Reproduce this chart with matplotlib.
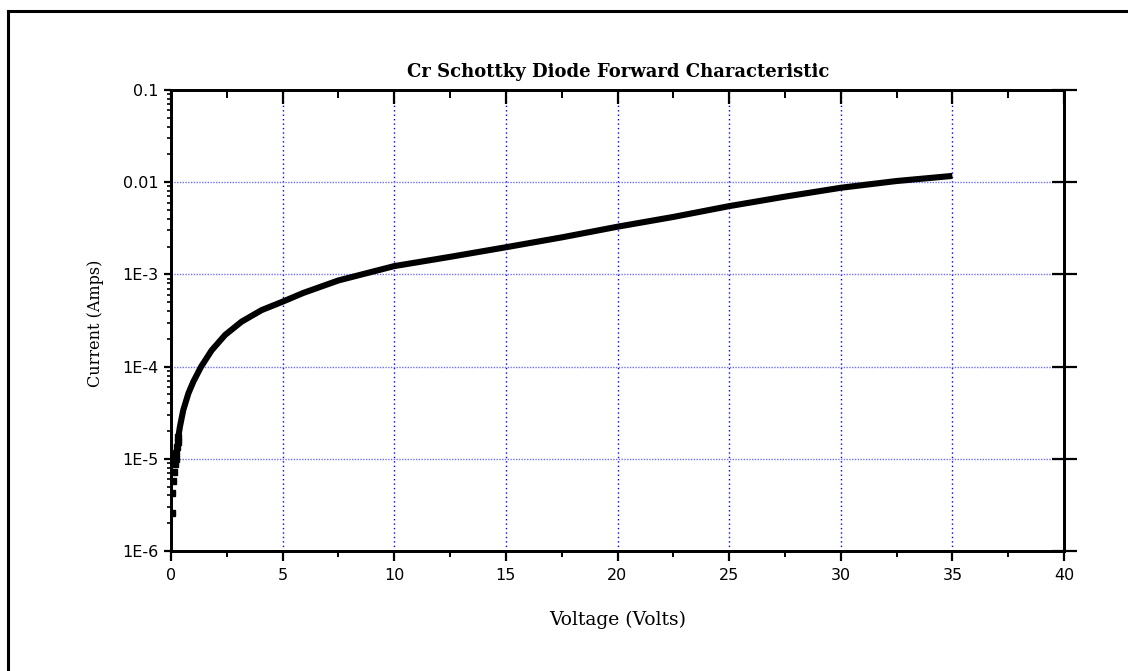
import matplotlib
matplotlib.use("Agg")
import matplotlib.pyplot as plt
from matplotlib.lines import Line2D
from matplotlib.ticker import FixedLocator, FixedFormatter, MultipleLocator

# ---- data ----
# discrete low-voltage points (visible as separate squares)
v_low = [0.03, 0.06, 0.10, 0.13, 0.18, 0.21, 0.22, 0.27, 0.30, 0.33]
i_low = [2.56e-6, 4.28e-6, 5.79e-6, 7.14e-6, 8.8e-6, 1.0e-5, 1.15e-5, 1.33e-5, 1.51e-5, 1.74e-5]
# dense part of the curve
v_main = [0.33, 0.40, 0.55, 0.78, 1.0, 1.35, 1.82, 2.42, 3.16, 4.06, 5.0, 5.93, 7.5,
          10.0, 12.5, 15.0, 17.5, 20.0, 22.5, 25.0, 27.5, 30.0, 32.5, 35.0]
i_main = [1.74e-5, 2.23e-5, 3.38e-5, 5.13e-5, 6.86e-5, 1.0e-4, 1.5e-4, 2.2e-4, 3.07e-4,
          4.1e-4, 5.06e-4, 6.3e-4, 8.6e-4, 1.23e-3, 1.55e-3, 1.97e-3, 2.52e-3, 3.29e-3,
          4.2e-3, 5.5e-3, 6.97e-3, 8.7e-3, 1.03e-2, 1.17e-2]

y_ticks = [1e-6, 1e-5, 1e-4, 1e-3, 1e-2, 1e-1]
y_tick_labels = ["1E-6", "1E-5", "1E-4", "1E-3", "0.01", "0.1"]
x_ticks = [0, 5, 10, 15, 20, 25, 30, 35, 40]

title = "Cr Schottky Diode Forward Characteristic"
xlabel = "Voltage (Volts)"
ylabel = "Current (Amps)"

W, H = 1128, 671
fig = plt.figure(figsize=(W / 100, H / 100), dpi=100)
fig.patch.set_facecolor("white")

ax = fig.add_axes([171 / W, 1 - 551 / H, (1064 - 171) / W, (551 - 90) / H])
ax.set_yscale("log")
ax.set_xlim(0, 40)
ax.set_ylim(1e-6, 0.1)

# grid lines (major only)
for gx in x_ticks[1:-1]:
    ax.axvline(gx, color="#0000ff", lw=1.0, ls=(0, (1, 2.2)), zorder=1)
for gy in y_ticks[1:-1]:
    ax.axhline(gy, color="#7070ff", lw=1.0, ls=(0, (1, 1)), zorder=1)

# data
ax.plot(v_low, i_low, ls="none", marker="s", ms=3.8, color="black", zorder=3)
ax.plot(v_main, i_main, ls="-", lw=4.4, color="black", solid_capstyle="butt",
        solid_joinstyle="round", zorder=3)

# ticks
ax.xaxis.set_major_locator(FixedLocator(x_ticks))
ax.xaxis.set_minor_locator(MultipleLocator(2.5))
ax.yaxis.set_major_locator(FixedLocator(y_ticks))
ax.yaxis.set_major_formatter(FixedFormatter(y_tick_labels))
minors = [m * 10.0 ** e for e in range(-6, -1) for m in range(2, 10)]
ax.yaxis.set_minor_locator(FixedLocator(minors))
ax.yaxis.set_minor_formatter(FixedFormatter([""] * len(minors)))

ax.tick_params(axis="x", which="major", direction="out", length=7, width=1.6,
               pad=5, labelsize=11.5, top=False)
ax.tick_params(axis="x", which="minor", direction="out", length=4, width=1.4, top=False)
ax.tick_params(axis="y", which="major", direction="out", length=5, width=1.6,
               pad=4, labelsize=11.5, right=False)
ax.tick_params(axis="y", which="minor", direction="out", length=3, width=1.2, right=False)
for lab in ax.get_xticklabels() + ax.get_yticklabels():
    lab.set_fontfamily("DejaVu Sans")

# top ticks (inward) and right ticks (in-out)
axt = ax.twiny()
axt.set_xlim(0, 40)
axt.xaxis.set_major_locator(FixedLocator(x_ticks))
axt.xaxis.set_minor_locator(MultipleLocator(2.5))
axt.tick_params(axis="x", which="major", direction="in", length=10, width=1.6, labeltop=False)
axt.tick_params(axis="x", which="minor", direction="in", length=6, width=1.4)
axt.tick_params(axis="y", left=False, right=False, labelleft=False, labelright=False)

axr = ax.twinx()
axr.set_yscale("log")
axr.set_ylim(1e-6, 0.1)
axr.yaxis.set_major_locator(FixedLocator(y_ticks))
axr.yaxis.set_minor_locator(FixedLocator(minors))
axr.tick_params(axis="y", which="major", direction="inout", length=18, width=1.6, labelright=False)
axr.tick_params(axis="y", which="minor", direction="inout", length=0, width=1.2)

for a in (ax, axt, axr):
    for s in a.spines.values():
        s.set_linewidth(1.8)
        s.set_color("black")

# texts
fig.text(618 / W, 1 - 72 / H, title, ha="center", va="center",
         fontfamily="DejaVu Serif", fontweight="bold", fontsize=13)
fig.text(618 / W, 1 - 620 / H, xlabel, ha="center", va="center",
         fontfamily="DejaVu Serif", fontsize=13.5)
fig.text(95 / W, 1 - 323 / H, ylabel, ha="center", va="center", rotation=90,
         fontfamily="DejaVu Serif", fontsize=11.5)

# outer frame (clipped at right and bottom like the reference)
fig.add_artist(Line2D([7.5 / W, 7.5 / W], [-0.05, 1 - 10.5 / H], transform=fig.transFigure,
                      color="black", lw=2.2, solid_capstyle="projecting"))
fig.add_artist(Line2D([7.5 / W, 1.05], [1 - 10.5 / H, 1 - 10.5 / H], transform=fig.transFigure,
                      color="black", lw=2.2, solid_capstyle="projecting"))

fig.savefig("out.png", dpi=100)
